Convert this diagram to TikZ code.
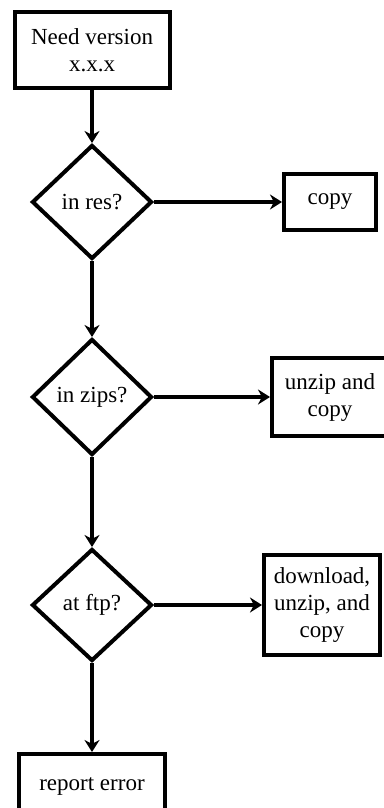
\documentclass[tikz,border=0pt]{standalone}
\usepackage{fontspec}
\setmainfont{Liberation Serif}
\usepackage{tikz}
\usetikzlibrary{arrows.meta,shapes.geometric}

\tikzset{
  stepbox/.style={draw, line width=4pt, align=center, inner sep=0pt,
    font=\fontsize{23}{27}\selectfont},
  decision/.style={diamond, draw, line width=4pt, inner sep=0pt,
    minimum width=120pt, minimum height=114pt,
    font=\fontsize{23}{27}\selectfont},
  flow/.style={line width=4pt, -{Stealth[length=12pt,width=15pt]}}
}

\begin{document}
\begin{tikzpicture}[x=1pt,y=-1pt]
      \useasboundingbox (0,0) rectangle (383,808);
      % main column
      \node[stepbox, minimum width=155pt, minimum height=76pt] (need) at (92,50) {Need version\\x.x.x};
      \node[decision] (res) at (92,202) {in res?};
      \node[decision, minimum height=116pt] (zips) at (92,397) {in zips?};
      \node[decision, minimum height=112pt] (ftp) at (92,605) {at ftp?};
      \node[stepbox, minimum width=146pt, minimum height=64pt] (report) at (92,786) {report error};
      % actions on the right
      \node[stepbox, minimum width=92pt, minimum height=56pt] (copy) at (330,202) {copy};
      \node[stepbox, minimum width=116pt, minimum height=78pt] (unzip) at (330,397) {unzip and\\copy};
      \node[stepbox, minimum width=116pt, minimum height=100pt] (download) at (322,605) {download,\\unzip, and\\copy};
      % connectors
      \draw[flow] (need) -- (res);
      \draw[flow] (res) -- (zips);
      \draw[flow] (zips) -- (ftp);
      \draw[flow] (ftp) -- (report);
      \draw[flow] (res.east) -- (copy.west);
      \draw[flow] (zips.east) -- (unzip.west);
      \draw[flow] (ftp.east) -- (download.west);
    \end{tikzpicture}
\end{document}
